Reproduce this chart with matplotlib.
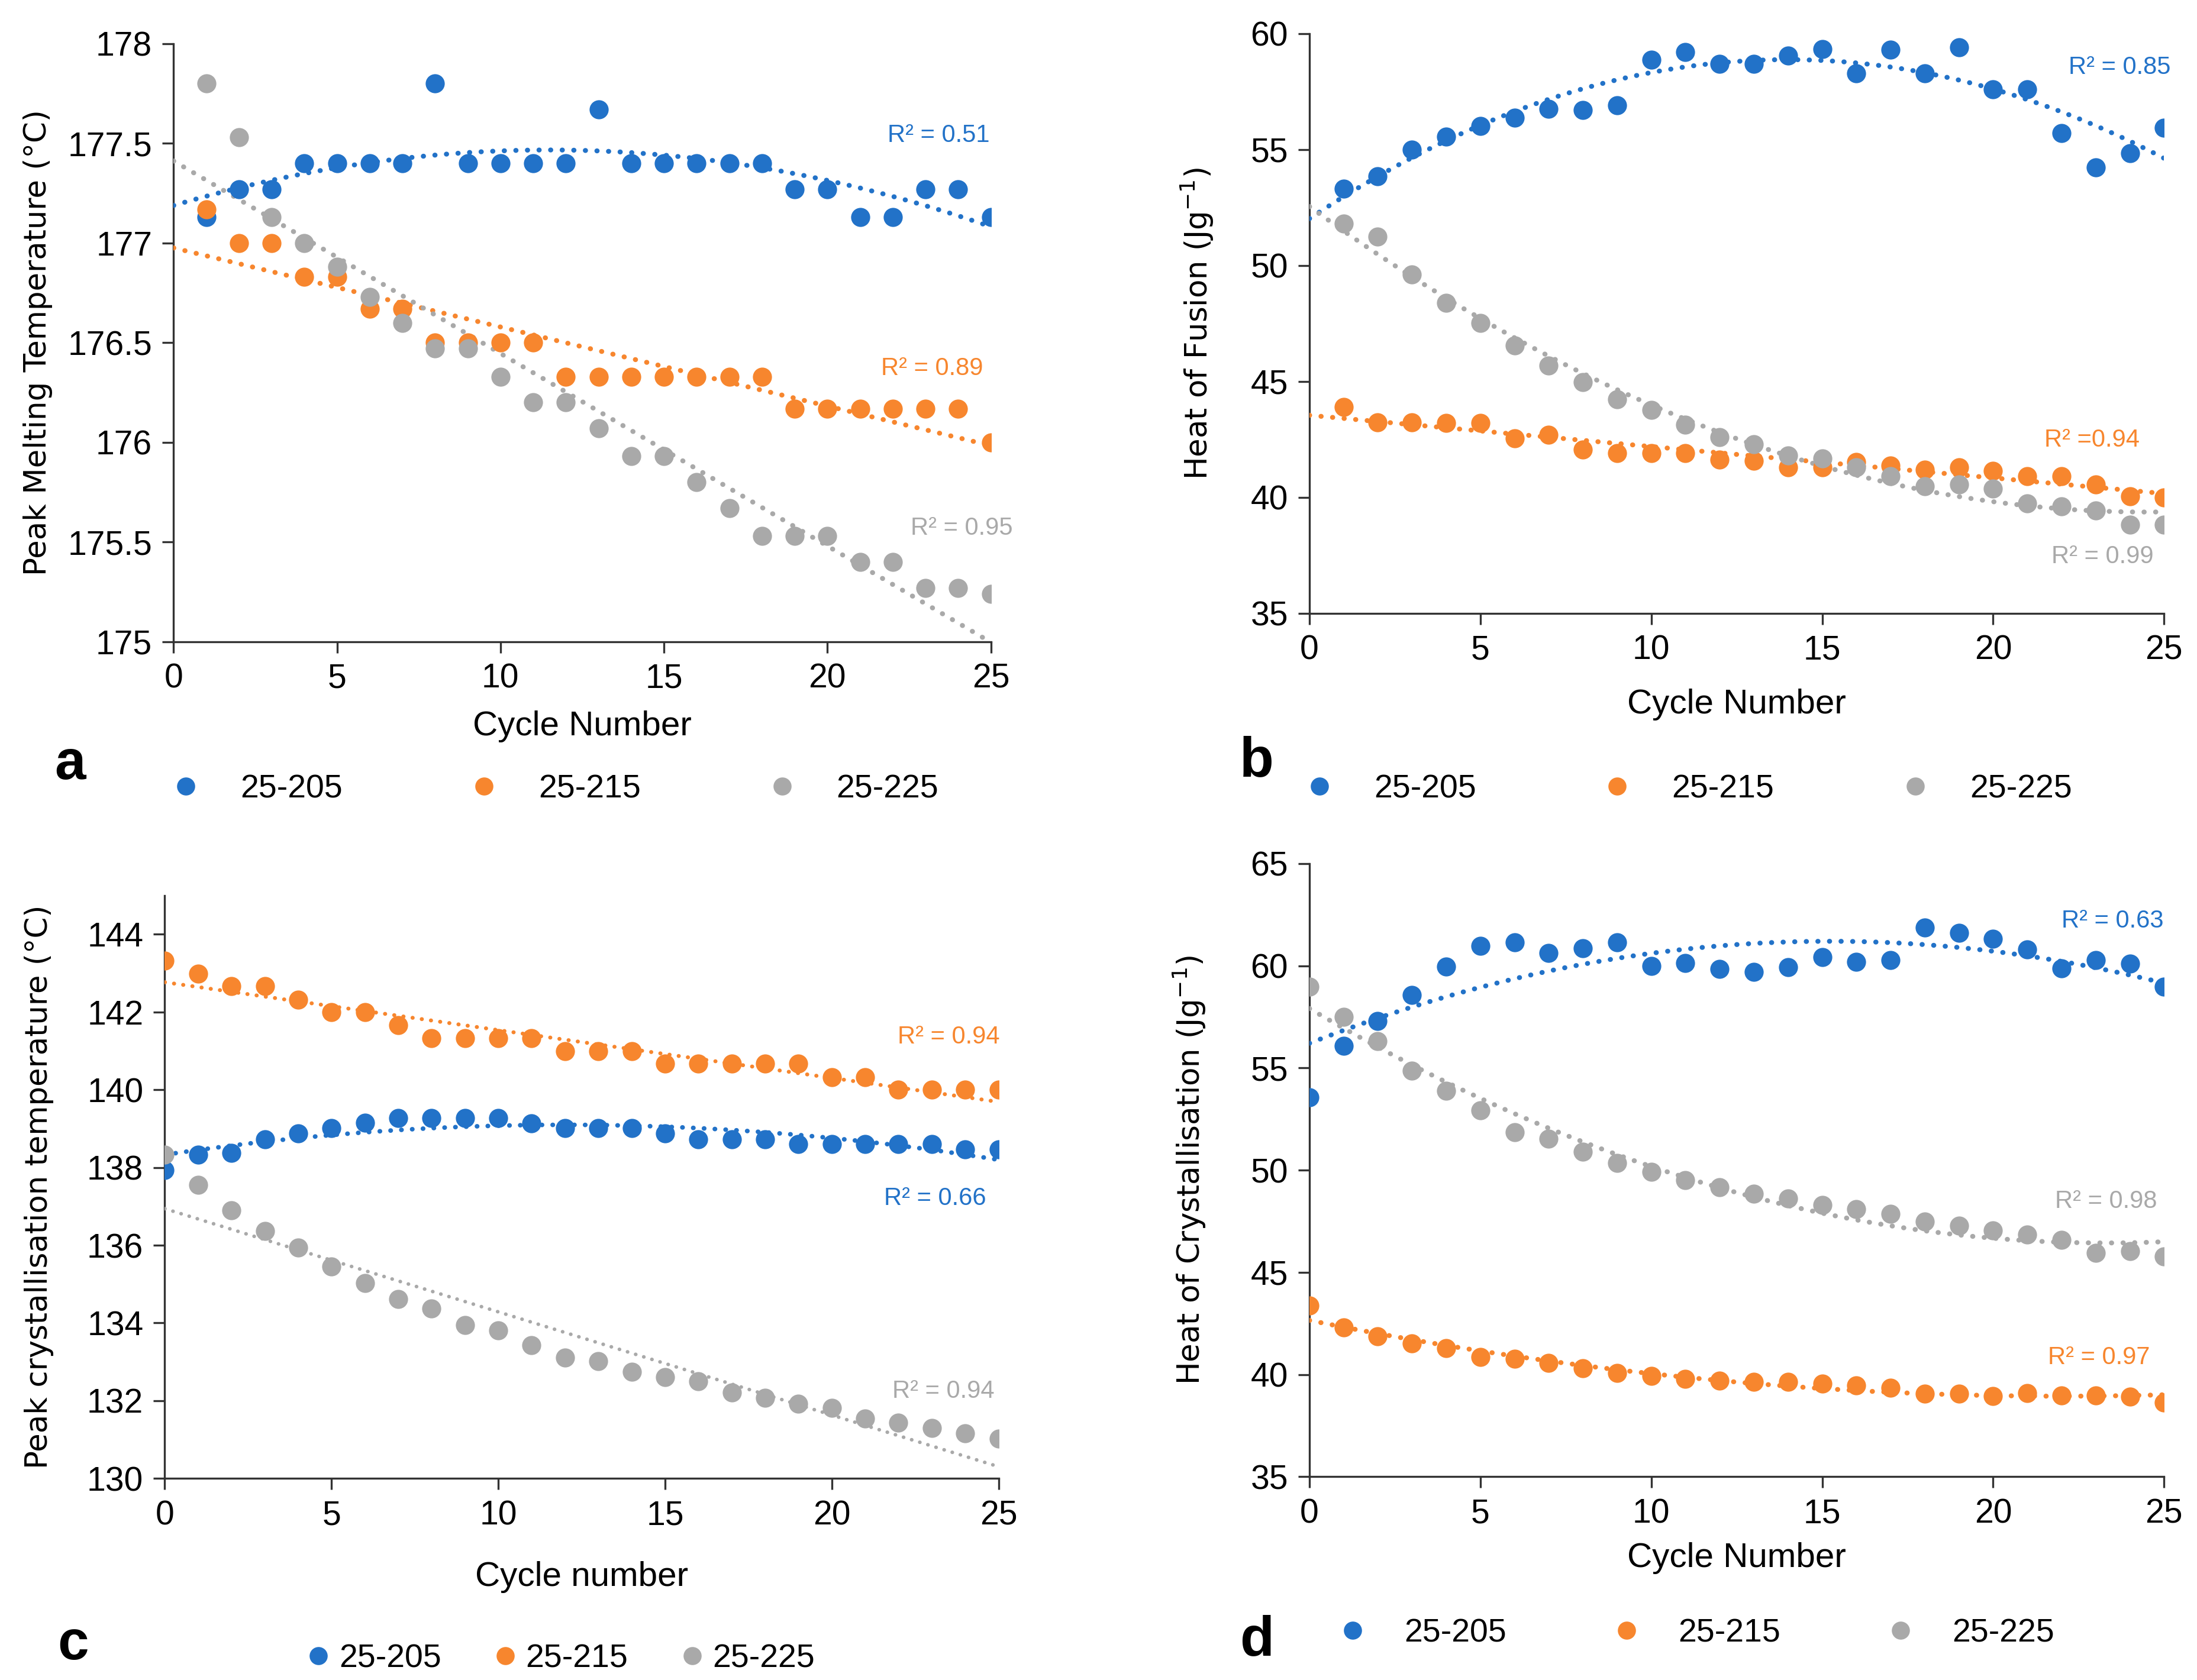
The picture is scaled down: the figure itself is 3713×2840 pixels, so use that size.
import numpy as np
import matplotlib
matplotlib.use('Agg')
import matplotlib.pyplot as plt
from matplotlib.lines import Line2D

plt.rcParams['font.family'] = ['Liberation Sans Narrow', 'Liberation Sans', 'DejaVu Sans']

# ---- data ----
cycles_a = np.arange(1, 26)
cycles_full = np.arange(0, 26)

# a: peak melting temperature (C), cycles 1..25
melt_205 = [177.13, 177.27, 177.27, 177.40, 177.40, 177.40, 177.40, 177.80, 177.40, 177.40,
            177.40, 177.40, 177.67, 177.40, 177.40, 177.40, 177.40, 177.40, 177.27, 177.27,
            177.13, 177.13, 177.27, 177.27, 177.13]
melt_215 = [177.17, 177.00, 177.00, 176.83, 176.83, 176.67, 176.67, 176.50, 176.50, 176.50,
            176.50, 176.33, 176.33, 176.33, 176.33, 176.33, 176.33, 176.33, 176.17, 176.17,
            176.17, 176.17, 176.17, 176.17, 176.00]
melt_225 = [177.80, 177.53, 177.13, 177.00, 176.88, 176.73, 176.60, 176.47, 176.47, 176.33,
            176.20, 176.20, 176.07, 175.93, 175.93, 175.80, 175.67, 175.53, 175.53, 175.53,
            175.40, 175.40, 175.27, 175.27, 175.24]

# b: heat of fusion (J/g), cycles 1..25
fus_205 = [53.32, 53.84, 55.00, 55.56, 56.02, 56.36, 56.75, 56.70, 56.91, 58.86,
           59.20, 58.70, 58.70, 59.04, 59.34, 58.28, 59.31, 58.28, 59.40, 57.60,
           57.60, 55.70, 54.23, 54.85, 55.95]
fus_215 = [43.90, 43.24, 43.24, 43.20, 43.20, 42.55, 42.70, 42.07, 41.91, 41.91,
           41.91, 41.62, 41.57, 41.30, 41.30, 41.53, 41.37, 41.20, 41.30, 41.14,
           40.90, 40.90, 40.54, 40.04, 40.00]
fus_225 = [51.80, 51.25, 49.60, 48.39, 47.52, 46.56, 45.69, 44.96, 44.23, 43.77,
           43.13, 42.60, 42.28, 41.80, 41.68, 41.30, 40.90, 40.47, 40.54, 40.38,
           39.74, 39.62, 39.42, 38.82, 38.82]

# c: peak crystallisation temperature (C), cycles 0..25
cry_205 = [137.93, 138.33, 138.38, 138.73, 138.87, 139.01, 139.15, 139.27, 139.27, 139.27,
           139.27, 139.14, 139.01, 139.01, 139.01, 138.87, 138.73, 138.73, 138.73, 138.61,
           138.61, 138.61, 138.61, 138.61, 138.47, 138.47]
cry_215 = [143.32, 142.99, 142.66, 142.66, 142.31, 142.00, 142.00, 141.66, 141.33, 141.33,
           141.33, 141.33, 141.00, 141.00, 141.00, 140.67, 140.67, 140.67, 140.67, 140.67,
           140.32, 140.32, 140.00, 140.00, 140.00, 140.00]
cry_225 = [138.33, 137.55, 136.90, 136.36, 135.94, 135.45, 135.02, 134.62, 134.37, 133.95,
           133.81, 133.43, 133.11, 133.01, 132.74, 132.61, 132.50, 132.21, 132.08, 131.92,
           131.81, 131.54, 131.43, 131.29, 131.16, 131.02]

# d: heat of crystallisation (J/g), cycles 0..25
hc_205 = [53.57, 56.07, 57.30, 58.56, 59.96, 60.98, 61.14, 60.61, 60.85, 61.14,
          60.00, 60.14, 59.83, 59.69, 59.93, 60.43, 60.19, 60.27, 61.87, 61.61,
          61.32, 60.80, 59.88, 60.27, 60.09, 58.98]
hc_215 = [43.38, 42.30, 41.88, 41.52, 41.28, 40.86, 40.78, 40.57, 40.31, 40.07,
          39.92, 39.78, 39.70, 39.63, 39.63, 39.55, 39.47, 39.34, 39.07, 39.07,
          38.94, 39.10, 38.97, 38.97, 38.92, 38.63]
hc_225 = [58.98, 57.51, 56.31, 54.86, 53.89, 52.92, 51.84, 51.55, 50.89, 50.34,
          49.92, 49.50, 49.16, 48.85, 48.61, 48.29, 48.08, 47.85, 47.48, 47.27,
          47.06, 46.85, 46.59, 45.96, 46.03, 45.77]

series_names = ['25-205', '25-215', '25-225']
r2_a = ['0.51', '0.89', '0.95']
r2_b = ['0.85', '0.94', '0.99']
r2_c = ['0.66', '0.94', '0.94']
r2_d = ['0.63', '0.97', '0.98']

blue = '#2272C8'
orange = '#F7862E'
gray = '#A9A9A9'
colors = [blue, orange, gray]

fig = plt.figure(figsize=(18.565, 14.2), dpi=200)

tick_fs = 20.5
lab_fs = 21
ylab_fs = 18.5


def style_axes(ax, xlim, ylim, yticks):
    ax.set_xlim(*xlim)
    ax.set_ylim(*ylim)
    ax.set_xticks([0, 5, 10, 15, 20, 25])
    ax.set_yticks(yticks)
    for s in ['top', 'right']:
        ax.spines[s].set_visible(False)
    for s in ['left', 'bottom']:
        ax.spines[s].set_color('#333333')
        ax.spines[s].set_linewidth(1.2)
    ax.tick_params(direction='out', length=7, width=1.2, color='#333333',
                   labelsize=tick_fs, pad=6)


def trend(ax, x, y, deg, color, lw=3.0):
    c = np.polyfit(x, y, deg)
    xs = np.linspace(0, 25, 200)
    ax.plot(xs, np.polyval(c, xs), color=color, lw=lw, linestyle=(0, (0.05, 2.3)),
            dash_capstyle='round', zorder=3)


def add_legend(x, y, hl, htp, cs):
    handles = [Line2D([], [], marker='o', linestyle='none', markersize=10,
                      markerfacecolor=c, markeredgecolor=c) for c in colors]
    fig.legend(handles, series_names, loc='center left', bbox_to_anchor=(x, y),
               ncol=3, frameon=False, fontsize=20, handlelength=hl,
               handletextpad=htp, columnspacing=cs, borderpad=0, borderaxespad=0)


ms = 135

# ---- panel a ----
ax = fig.add_axes([0.079, 0.618, 0.372, 0.356])
for yv, c in zip([melt_205, melt_215, melt_225], colors):
    ax.scatter(cycles_a, yv, s=ms, color=c, zorder=4, linewidths=0)
trend(ax, cycles_a, melt_205, 2, blue)
trend(ax, cycles_a, melt_215, 1, orange)
trend(ax, cycles_a, melt_225, 1, gray)
style_axes(ax, (0, 25), (175, 178), [175, 175.5, 176, 176.5, 177, 177.5, 178])
ax.set_yticklabels(['175', '175.5', '176', '176.5', '177', '177.5', '178'])
ax.set_ylabel('Peak Melting Temperature (°C)', fontsize=ylab_fs, family='DejaVu Sans')
ax.yaxis.set_label_coords(-0.148, 0.5)
ax.set_xlabel('Cycle Number', fontsize=lab_fs)
ax.xaxis.set_label_coords(0.5, -0.115)
for (tx, ty), r, c in zip([(23.4, 177.54), (23.2, 176.37), (24.1, 175.57)], r2_a, colors):
    ax.text(tx, ty, 'R² = ' + r, color=c, fontsize=15, ha='center', va='center')
fig.text(0.032, 0.545, 'a', fontsize=34, fontweight='bold', family='Liberation Sans',
         ha='center', va='center')
add_legend(0.077, 0.530, 1.0, 1.16, 3.8)

# ---- panel b ----
ax = fig.add_axes([0.596, 0.635, 0.389, 0.345])
for yv, c in zip([fus_205, fus_215, fus_225], colors):
    ax.scatter(cycles_a, yv, s=ms, color=c, zorder=4, linewidths=0)
trend(ax, cycles_a, fus_205, 2, blue)
trend(ax, cycles_a, fus_215, 1, orange)
trend(ax, cycles_a, fus_225, 2, gray)
style_axes(ax, (0, 25), (35, 60), [35, 40, 45, 50, 55, 60])
ax.set_ylabel('Heat of Fusion (Jg$^{-1}$)', fontsize=ylab_fs, family='DejaVu Sans')
ax.yaxis.set_label_coords(-0.11, 0.5)
ax.set_xlabel('Cycle Number', fontsize=lab_fs)
ax.xaxis.set_label_coords(0.5, -0.13)
for (tx, ty), r, c in zip([(23.7, 58.54), (22.9, 42.46), (23.2, 37.43)], r2_b, colors):
    lbl = 'R² =' + r if c == orange else 'R² = ' + r
    ax.text(tx, ty, lbl, color=c, fontsize=15, ha='center', va='center')
fig.text(0.572, 0.5465, 'b', fontsize=34, fontweight='bold', family='Liberation Sans',
         ha='center', va='center')
add_legend(0.593, 0.530, 1.0, 1.16, 3.8)

# ---- panel c ----
ax = fig.add_axes([0.075, 0.120, 0.3795, 0.347])
for yv, c in zip([cry_205, cry_215, cry_225], colors):
    ax.scatter(cycles_full, yv, s=ms, color=c, zorder=4, linewidths=0)
trend(ax, cycles_full, cry_215, 1, orange, lw=2.4)
trend(ax, cycles_full, cry_205, 2, blue, lw=2.8)
trend(ax, cycles_full, cry_225, 1, gray, lw=2.2)
style_axes(ax, (0, 25), (130, 145), [130, 132, 134, 136, 138, 140, 142, 144])
ax.set_ylabel('Peak crystallisation temperature (°C)', fontsize=ylab_fs, family='DejaVu Sans')
ax.yaxis.set_label_coords(-0.133, 0.5)
ax.set_xlabel('Cycle number', fontsize=lab_fs)
ax.xaxis.set_label_coords(0.5, -0.142)
for (tx, ty), r, c in zip([(23.1, 137.2), (23.5, 141.36), (23.35, 132.24)], r2_c, colors):
    ax.text(tx, ty, 'R² = ' + r, color=c, fontsize=15, ha='center', va='center')
fig.text(0.0333, 0.021, 'c', fontsize=34, fontweight='bold', family='Liberation Sans',
         ha='center', va='center')
add_legend(0.139, 0.0126, 0.8, 0.22, 1.55)

# ---- panel d ----
ax = fig.add_axes([0.596, 0.121, 0.389, 0.365])
for yv, c in zip([hc_205, hc_215, hc_225], colors):
    ax.scatter(cycles_full, yv, s=ms, color=c, zorder=4, linewidths=0)
trend(ax, cycles_full, hc_205, 2, blue)
trend(ax, cycles_full, hc_215, 2, orange)
trend(ax, cycles_full, hc_225, 2, gray)
style_axes(ax, (0, 25), (35, 65), [35, 40, 45, 50, 55, 60, 65])
ax.set_ylabel('Heat of Crystallisation (Jg$^{-1}$)', fontsize=ylab_fs, family='DejaVu Sans')
ax.yaxis.set_label_coords(-0.119, 0.5)
ax.set_xlabel('Cycle Number', fontsize=lab_fs)
ax.xaxis.set_label_coords(0.5, -0.107)
for (tx, ty), r, c in zip([(23.5, 62.18), (23.1, 40.84), (23.3, 48.48)], r2_d, colors):
    ax.text(tx, ty, 'R² = ' + r, color=c, fontsize=15, ha='center', va='center')
fig.text(0.572, 0.0235, 'd', fontsize=34, fontweight='bold', family='Liberation Sans',
         ha='center', va='center')
add_legend(0.6083, 0.0277, 1.0, 1.07, 3.15)

fig.savefig('out.png', dpi=200)
